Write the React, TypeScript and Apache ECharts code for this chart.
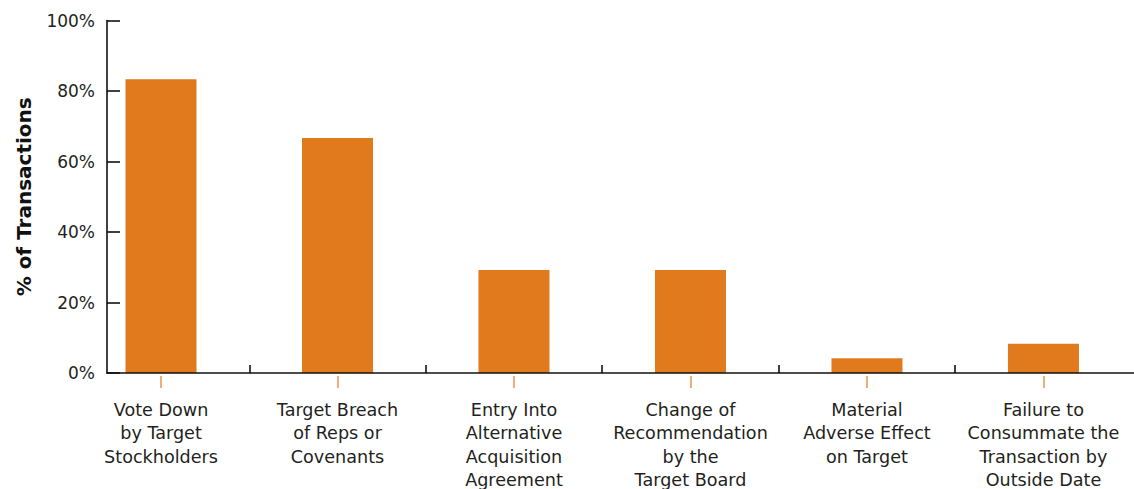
import { useEffect, useRef } from "react";
import * as echarts from "echarts";

// Reasons a target may pay a termination fee, share of transactions (%)
const categories = [
  "Vote Down\nby Target\nStockholders",
  "Target Breach\nof Reps or\nCovenants",
  "Entry Into\nAlternative\nAcquisition\nAgreement",
  "Change of\nRecommendation\nby the\nTarget Board",
  "Material\nAdverse Effect\non Target",
  "Failure to\nConsummate the\nTransaction by\nOutside Date",
];
const shares = [83.3, 66.7, 29.2, 29.2, 4.2, 8.3];
const yMin = 0;
const yMax = 100;
const yStep = 20;

const ORANGE = "#E07A1C";
const TEXT = "#231F20";
const FONT = "DejaVu Sans";

export default function App() {
  const ref = useRef<HTMLDivElement>(null);

  useEffect(() => {
    if (!ref.current) return;
    const chart = echarts.init(ref.current, undefined, { renderer: "svg" });

    const slots = categories.map((_, i) => i);
    const gaps = slots.slice(0, -1).map((i) => i + 0.5);

    chart.setOption({
      animation: false,
      backgroundColor: "#ffffff",
      grid: {
        left: 107,
        right: 0,
        top: 20.5,
        bottom: 116,
        containLabel: false,
        outerBoundsMode: "none",
      },
      xAxis: [
        {
          type: "value",
          min: -0.306,
          max: 5.513,
          z: 5,
          axisLine: { show: true, onZero: false, lineStyle: { color: "#111", width: 1.6 } },
          axisTick: {
            show: true,
            inside: true,
            length: 8,
            customValues: gaps,
            lineStyle: { color: "#111", width: 1.6 },
          },
          axisLabel: { show: false },
          splitLine: { show: false },
        },
        {
          type: "value",
          min: -0.306,
          max: 5.513,
          position: "bottom",
          offset: 3,
          axisLine: { show: false, onZero: false },
          axisTick: {
            show: true,
            length: 12,
            customValues: slots,
            lineStyle: { color: "#E8934A", width: 1.5 },
          },
          axisLabel: {
            show: true,
            customValues: slots,
            margin: 22,
            formatter: (v: number) => categories[Math.round(v)] ?? "",
            color: TEXT,
            fontFamily: FONT,
            fontSize: 17.6,
            lineHeight: 23.5,
            align: "center",
          },
          splitLine: { show: false },
        },
      ],
      yAxis: {
        type: "value",
        min: yMin,
        max: yMax,
        interval: yStep,
        name: "% of Transactions",
        nameLocation: "middle",
        nameRotate: 90,
        nameGap: 73,
        nameTextStyle: {
          color: "#111",
          fontFamily: FONT,
          fontWeight: "bold",
          fontSize: 20,
        },
        axisLine: { show: true, onZero: false, lineStyle: { color: "#111", width: 1.6 } },
        axisTick: {
          show: true,
          inside: true,
          length: 13,
          lineStyle: { color: "#111", width: 1.6 },
        },
        axisLabel: {
          formatter: "{value}%",
          margin: 12,
          color: TEXT,
          fontFamily: FONT,
          fontSize: 17,
        },
        splitLine: { show: false },
      },
      series: [
        {
          type: "bar",
          xAxisIndex: 0,
          barWidth: 71,
          itemStyle: { color: ORANGE },
          data: shares.map((v, i) => [slots[i], v]),
        },
      ],
    });

    return () => chart.dispose();
  }, []);

  return (
    <div
      ref={ref}
      style={{ position: "fixed", left: 0, top: 0, width: 1134, height: 489 }}
    />
  );
}
